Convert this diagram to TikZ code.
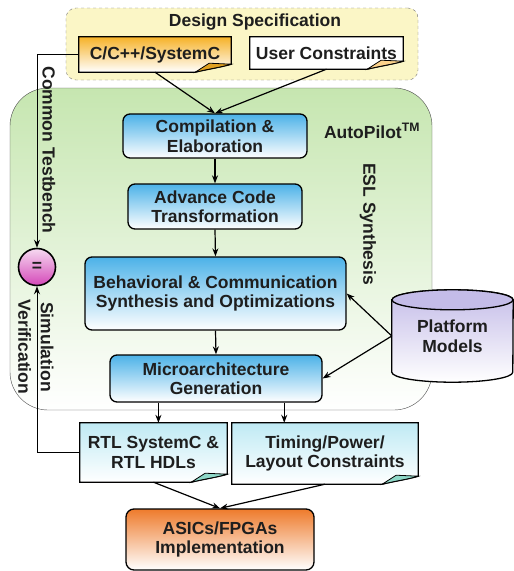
\documentclass[tikz,border=0pt]{standalone}
\usepackage{fontspec}
\setmainfont{Liberation Sans}
\usetikzlibrary{arrows.meta,positioning,calc}

\definecolor{specyellow}{HTML}{FBF6C6}
\definecolor{synthgreen}{HTML}{C6E6B0}
\definecolor{stepblue}{HTML}{4CB2E8}
\definecolor{srcorange}{HTML}{F6B228}
\definecolor{srcflap}{HTML}{E0A020}
\definecolor{asicorange}{HTML}{EE7B2C}
\definecolor{docblue}{HTML}{BFEAF4}
\definecolor{docflap}{HTML}{8ED8C8}
\definecolor{platlilac}{HTML}{C4BCE8}
\definecolor{eqpink}{HTML}{D447B8}
\definecolor{textgray}{HTML}{1E1E1E}

\newcommand{\boxfont}{\bfseries\fontsize{17.5}{19.5}\selectfont}

\pgfdeclarelayer{back}
\pgfdeclarelayer{docs}
\pgfsetlayers{back,docs,main}

% sheet of paper with a curled corner, drawn behind node #1
\newcommand{\docsheet}[3]{%
  \begin{pgfonlayer}{docs}
    \draw[line width=1.3pt, top color=#2, bottom color=white]
      (#1.north west) -- (#1.north east) -- ($(#1.south east)+(0,-8)$)
      .. controls ($(#1.south east)+(-10,-5)$) and ($(#1.south east)+(-24,-3)$) .. ($(#1.south east)+(-36,0)$)
      -- (#1.south west) -- cycle;
    \draw[line width=0.8pt, fill=#3]
      ($(#1.south east)+(-36,0)$) -- ($(#1.south east)+(-22,-9)$) -- ($(#1.south east)+(0,-8)$)
      .. controls ($(#1.south east)+(-10,-5)$) and ($(#1.south east)+(-24,-3)$) .. cycle;
  \end{pgfonlayer}}

\begin{document}
\begin{tikzpicture}[x=1pt,y=1pt,yscale=-1,
    every node/.style={font=\boxfont, text=textgray},
    stepbox/.style={draw, line width=1.3pt, rounded corners=7pt, top color=stepblue,
      bottom color=white, align=center, inner sep=0pt},
    docbox/.style={align=center, inner sep=0pt},
    sidetext/.style={rotate=-90, align=center, inner sep=0pt},
    flow/.style={-{Stealth[length=8pt,width=6pt]}, line width=1.2pt}]
  \useasboundingbox (0,0) rectangle (514,571);

  % regions
  \begin{pgfonlayer}{back}
    \node[draw=black!55, dashed, rounded corners=10pt, fill=specyellow,
      minimum width=352pt, minimum height=72pt] (spec) at (242,44) {};
    \node[draw=black!70, rounded corners=38pt, top color=synthgreen, bottom color=white,
      minimum width=422pt, minimum height=322pt] (autopilot) at (221,249) {};
  \end{pgfonlayer}

  % design inputs
  \node (spectitle) at (255,22) {Design Specification};
  \node[docbox, minimum width=152pt, minimum height=35pt] (src) at (155,54.5) {C/C++/SystemC};
  \node[docbox, minimum width=153pt, minimum height=32pt] (usercons) at (326.5,53) {User Constraints};
  \docsheet{src}{srcorange}{srcflap}
  \docsheet{usercons}{white}{specyellow!70!orange}

  % synthesis steps
  \node[stepbox, minimum width=184pt, minimum height=44pt] (compile) at (215,136) {Compilation \&\\Elaboration};
  \node[stepbox, minimum width=174pt, minimum height=45pt] (advance) at (215,206.5) {Advance Code\\Transformation};
  \node[stepbox, minimum width=261pt, minimum height=73pt] (behav) at (215.5,293.5) {Behavioral \& Communication\\Synthesis and Optimizations};
  \node[stepbox, minimum width=212pt, minimum height=47pt] (micro) at (216,378.5) {Microarchitecture\\Generation};

  \node (tool) at (372,131) {AutoPilot\textsuperscript{TM}};
  \node[sidetext] (esl) at (368,224) {ESL Synthesis};

  % platform models
  \node[align=center, inner sep=0pt, minimum width=121pt, minimum height=92pt] (platform) at (452.5,336) {Platform\\Models};
  \begin{pgfonlayer}{docs}
    \draw[line width=1.3pt, top color=platlilac, bottom color=white]
      ($(platform.north west)+(0,10)$) -- ($(platform.south west)+(0,-10)$)
      arc[start angle=180, end angle=0, x radius=60.5, y radius=10]
      -- ($(platform.north east)+(0,10)$)
      arc[start angle=360, end angle=180, x radius=60.5, y radius=10] -- cycle;
    \draw[line width=1.3pt, fill=platlilac] ($(platform.north)+(0,10)$) ellipse[x radius=60.5, y radius=10];
  \end{pgfonlayer}

  % outputs
  \node[docbox, minimum width=147pt, minimum height=59pt] (rtl) at (153.5,452.5) {RTL SystemC \&\\RTL HDLs};
  \node[docbox, minimum width=186pt, minimum height=61pt] (timing) at (325,453.5) {Timing/Power/\\Layout Constraints};
  \docsheet{rtl}{docblue}{docflap}
  \docsheet{timing}{docblue}{docflap}
  \node[draw, line width=1.3pt, rounded corners=8pt, top color=asicorange, bottom color=white,
    align=center, inner sep=0pt, minimum width=188pt, minimum height=61pt] (asic) at (220,539.5) {ASICs/FPGAs\\Implementation};

  % verification
  \node[circle, draw, line width=1.6pt, top color=eqpink!20, bottom color=eqpink,
    minimum size=37pt, inner sep=0pt] (eq) at (37,267) {=};
  \node[sidetext] (testbench) at (49,150) {Common Testbench};
  \node[sidetext] (simverif) at (36,347) {Simulation\\[3pt]Verification};

  % connectors
  \draw[flow] (src.south) -- (compile.north);
  \draw[flow] (usercons.south) -- (compile.north);
  \draw[flow] (compile.south) -- (advance.north);
  \draw[flow] (advance.south) -- (behav.north);
  \draw[flow] (behav.south) -- (micro.north);
  \draw[flow] (platform.west) -- (behav.east);
  \draw[flow] (platform.west) -- (micro.east);
  \draw[flow] ($(micro.south west)!0.23!(micro.south east)$) coordinate (m1) -- (m1 |- rtl.north);
  \draw[flow] ($(micro.south west)!0.82!(micro.south east)$) coordinate (m2) -- (m2 |- timing.north);
  \draw[flow] (rtl.south) -- (asic.north);
  \draw[flow] (timing.south) -- (asic.north);
  \draw[flow, line width=1pt] (src.west) -- (src.west -| eq.north) -- (eq.north);
  \draw[flow, line width=1pt] (rtl.west) -- (rtl.west -| eq.south) -- (eq.south);
\end{tikzpicture}
\end{document}
